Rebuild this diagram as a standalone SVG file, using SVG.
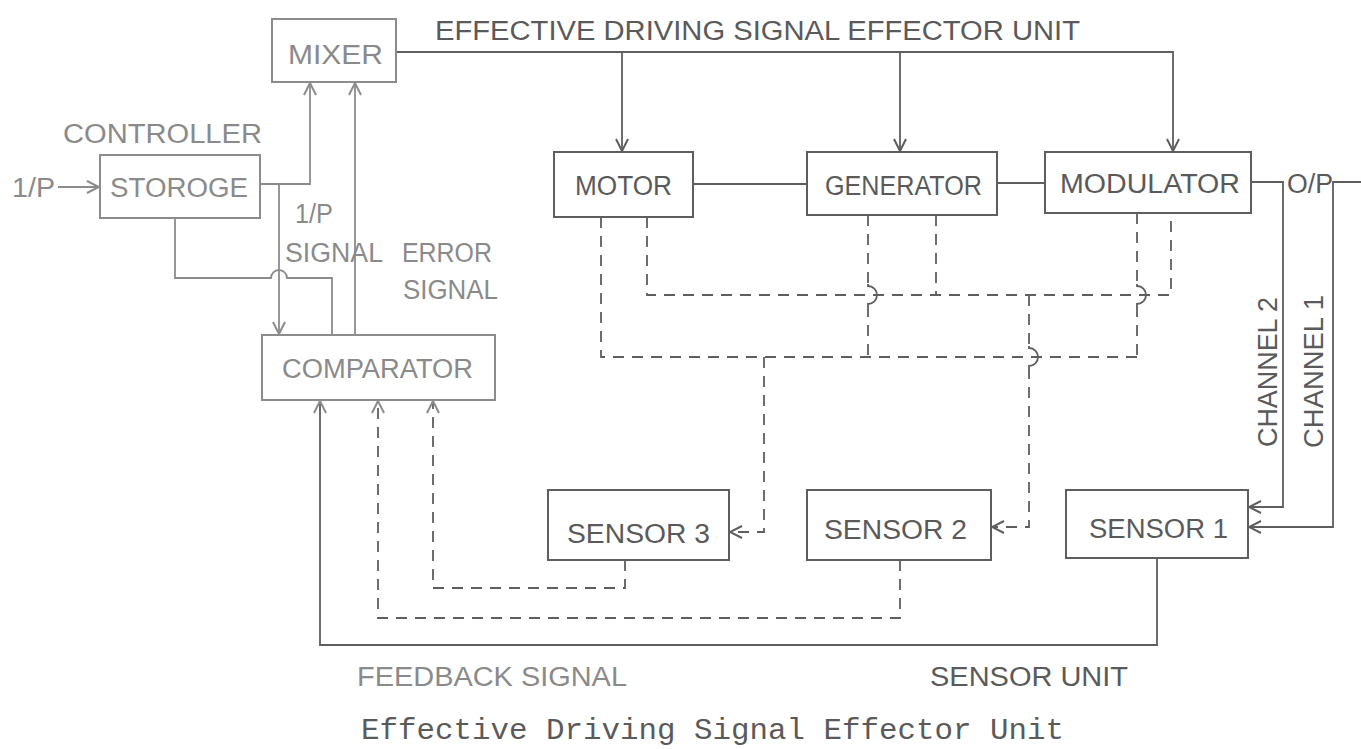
<svg xmlns="http://www.w3.org/2000/svg" width="1361" height="749" viewBox="0 0 1361 749">
<style>
  .box{fill:none;stroke:#5e5e5e;stroke-width:2}
  .boxl{fill:none;stroke:#8c8c8c;stroke-width:2}
  .ln{fill:none;stroke:#5e5e5e;stroke-width:1.8}
  .lnl{fill:none;stroke:#8c8c8c;stroke-width:1.8}
  .dash{fill:none;stroke:#5e5e5e;stroke-width:1.8;stroke-dasharray:11 8}
  .hop{fill:none;stroke:#5e5e5e;stroke-width:1.8}
  .t{font-family:"Liberation Sans",Arial,sans-serif;font-size:27px;fill:#5a5a5a}
  .tl{font-family:"Liberation Sans",Arial,sans-serif;font-size:27px;fill:#8a8a8a}
  .cap{font-family:"Liberation Mono","Courier New",monospace;font-size:30px;fill:#5a5a5a}
</style>
<defs>
  <marker id="arr" viewBox="0 0 14 14" refX="13" refY="7" markerWidth="14" markerHeight="14" orient="auto" markerUnits="userSpaceOnUse">
    <path d="M1,1 L13,7 L1,13" fill="none" stroke="#5e5e5e" stroke-width="2"/>
  </marker>
  <marker id="arrl" viewBox="0 0 14 14" refX="13" refY="7" markerWidth="14" markerHeight="14" orient="auto" markerUnits="userSpaceOnUse">
    <path d="M1,1 L13,7 L1,13" fill="none" stroke="#8c8c8c" stroke-width="2"/>
  </marker>
</defs>
<rect width="1361" height="749" fill="#ffffff"/>

<g id="connectors">
  <!-- controller side -->
  <path class="lnl" d="M58,187 H99" marker-end="url(#arrl)"/>
  <path class="lnl" d="M260,184 H310 V83" marker-end="url(#arrl)"/>
  <path class="lnl" d="M279,184 V334" marker-end="url(#arrl)"/>
  <path class="lnl" d="M175,218 V278 H271 A8,8 0 0 1 287,278 H332 V335"/>
  <path class="lnl" d="M355,335 V83" marker-end="url(#arrl)"/>
  <!-- effective driving signal -->
  <path class="ln" d="M396,52 H1173 V151" marker-end="url(#arr)"/>
  <path class="ln" d="M622,52 V151" marker-end="url(#arr)"/>
  <path class="ln" d="M900,52 V151" marker-end="url(#arr)"/>
  <path class="ln" d="M693,184 H807"/>
  <path class="ln" d="M997,183 H1045"/>
  <!-- outputs / channels -->
  <path class="ln" d="M1251,182 H1283 V507 H1249" marker-end="url(#arr)"/>
  <path class="ln" d="M1361,182 H1333 V527 H1249" marker-end="url(#arr)"/>
  <!-- feedback solid -->
  <path class="ln" d="M1157,558 V645 H320 V401" marker-end="url(#arrl)"/>
  <!-- dashed sensing lines -->
  <path class="dash" d="M601,217 V357 H1137"/>
  <path class="dash" d="M1137,213 V286"/>
  <path class="hop" d="M1137,284 V286 A9,9 0 0 1 1137,304 V306"/>
  <path class="dash" d="M1137,306 V357"/>
  <path class="dash" d="M868,215 V286"/>
  <path class="hop" d="M868,284 V286 A9,9 0 0 1 868,304 V306"/>
  <path class="dash" d="M868,306 V357"/>
  <path class="dash" d="M647,217 V295 H1171 V213"/>
  <path class="dash" d="M936,215 V295"/>
  <path class="dash" d="M1029,295 V348"/>
  <path class="hop" d="M1029,346 V348 A9,9 0 0 1 1029,366 V368"/>
  <path class="dash" d="M1029,368 V527 H992" marker-end="url(#arr)"/>
  <path class="dash" d="M764,357 V532 H730" marker-end="url(#arr)"/>
  <path class="dash" d="M625,560 V588 H433 V401" marker-end="url(#arrl)"/>
  <path class="dash" d="M900,560 V618 H378 V401" marker-end="url(#arrl)"/>
</g>

<g id="mixer">
  <rect class="boxl" x="272" y="19" width="124" height="63"/>
  <text class="tl" x="288" y="64" textLength="95" lengthAdjust="spacingAndGlyphs">MIXER</text>
</g>
<g id="storage">
  <text class="tl" x="63" y="143" textLength="199" lengthAdjust="spacingAndGlyphs">CONTROLLER</text>
  <rect class="boxl" x="100" y="155" width="160" height="63"/>
  <text class="tl" x="110" y="197" textLength="138" lengthAdjust="spacingAndGlyphs">STOROGE</text>
</g>
<g id="comparator">
  <rect class="boxl" x="262" y="335" width="233" height="65"/>
  <text class="tl" x="282" y="378" textLength="191" lengthAdjust="spacingAndGlyphs">COMPARATOR</text>
</g>
<g id="motor">
  <rect class="box" x="554" y="152" width="139" height="65"/>
  <text class="t" x="575" y="195" textLength="97" lengthAdjust="spacingAndGlyphs">MOTOR</text>
</g>
<g id="generator">
  <rect class="box" x="807" y="152" width="190" height="63"/>
  <text class="t" x="825" y="195" textLength="157" lengthAdjust="spacingAndGlyphs">GENERATOR</text>
</g>
<g id="modulator">
  <rect class="box" x="1045" y="152" width="206" height="61"/>
  <text class="t" x="1060" y="193" textLength="180" lengthAdjust="spacingAndGlyphs">MODULATOR</text>
</g>
<g id="sensor3">
  <rect class="box" x="548" y="490" width="181" height="70"/>
  <text class="t" x="567" y="543" textLength="143" lengthAdjust="spacingAndGlyphs">SENSOR 3</text>
</g>
<g id="sensor2">
  <rect class="box" x="807" y="490" width="184" height="70"/>
  <text class="t" x="824" y="539" textLength="143" lengthAdjust="spacingAndGlyphs">SENSOR 2</text>
</g>
<g id="sensor1">
  <rect class="box" x="1066" y="490" width="182" height="68"/>
  <text class="t" x="1089" y="538" textLength="139" lengthAdjust="spacingAndGlyphs">SENSOR 1</text>
</g>

<g id="labels">
  <text class="t" x="435" y="40" textLength="645" lengthAdjust="spacingAndGlyphs">EFFECTIVE DRIVING SIGNAL EFFECTOR UNIT</text>
  <text class="tl" x="12" y="197" textLength="43" lengthAdjust="spacingAndGlyphs">1/P</text>
  <text class="tl" x="295" y="223" textLength="38" lengthAdjust="spacingAndGlyphs">1/P</text>
  <text class="tl" x="285" y="262" textLength="98" lengthAdjust="spacingAndGlyphs">SIGNAL</text>
  <text class="tl" x="402" y="262" textLength="90" lengthAdjust="spacingAndGlyphs">ERROR</text>
  <text class="tl" x="403" y="299" textLength="95" lengthAdjust="spacingAndGlyphs">SIGNAL</text>
  <text class="t" x="1287" y="193" textLength="46" lengthAdjust="spacingAndGlyphs">O/P</text>
  <text class="t" transform="translate(1277,447) rotate(-90)" x="0" y="0" textLength="150" lengthAdjust="spacingAndGlyphs">CHANNEL 2</text>
  <text class="t" transform="translate(1323,448) rotate(-90)" x="0" y="0" textLength="153" lengthAdjust="spacingAndGlyphs">CHANNEL 1</text>
  <text class="tl" x="357" y="686" textLength="270" lengthAdjust="spacingAndGlyphs">FEEDBACK SIGNAL</text>
  <text class="t" x="930" y="686" textLength="198" lengthAdjust="spacingAndGlyphs">SENSOR UNIT</text>
  <text class="cap" x="361" y="739" textLength="703" lengthAdjust="spacingAndGlyphs">Effective Driving Signal Effector Unit</text>
</g>
</svg>
